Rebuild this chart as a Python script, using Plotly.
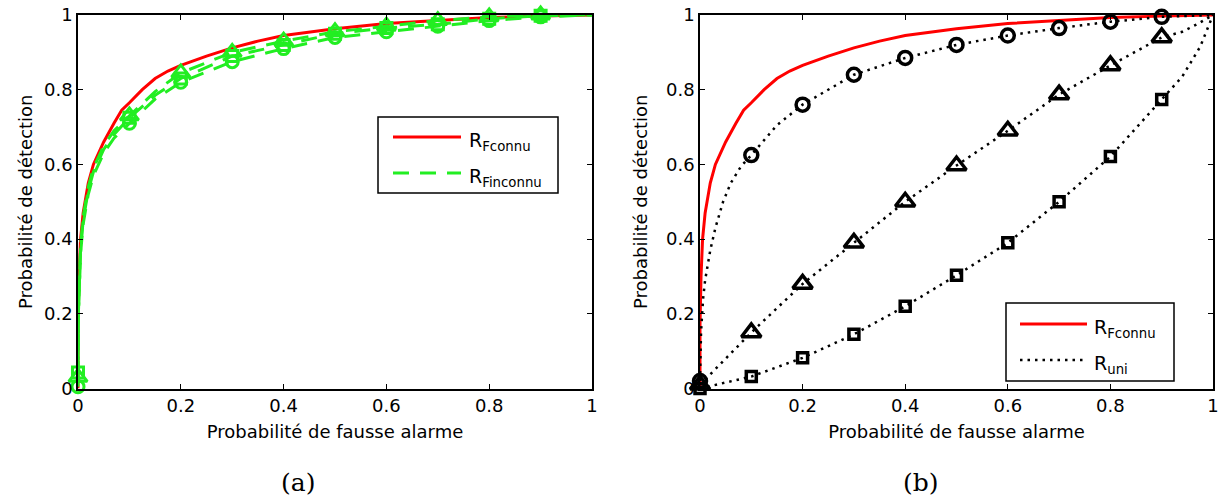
import plotly.graph_objects as go

# ---------------- data ----------------
# Red ROC curve (R_Fconnu), identical in both panels
pfa_red = [0, 0, 0.002, 0.005, 0.01, 0.02, 0.03, 0.05, 0.07, 0.085, 0.1, 0.125, 0.15,
           0.175, 0.2, 0.25, 0.3, 0.35, 0.4, 0.5, 0.6, 0.7, 0.8, 0.9, 1.0]
pd_red = [0, 0.17, 0.3, 0.4, 0.47, 0.55, 0.6, 0.66, 0.71, 0.745, 0.765, 0.8, 0.83,
          0.85, 0.865, 0.89, 0.912, 0.93, 0.945, 0.963, 0.977, 0.986, 0.993, 0.997, 1.0]

# Panel (a): green dashed curves (R_Finconnu)
pfa_green = [0, 0.001, 0.005, 0.01, 0.02, 0.03, 0.05, 0.07, 0.1, 0.15, 0.2, 0.3, 0.4,
             0.5, 0.6, 0.7, 0.8, 0.9, 1.0]
pd_green_circle = [0.005, 0.2, 0.36, 0.44, 0.52, 0.57, 0.63, 0.67, 0.71, 0.775, 0.82,
                   0.875, 0.91, 0.94, 0.955, 0.97, 0.985, 0.995, 1.0]
pd_green_triangle = [0.03, 0.22, 0.38, 0.46, 0.54, 0.59, 0.65, 0.69, 0.73, 0.795, 0.845,
                     0.9, 0.93, 0.955, 0.97, 0.985, 0.995, 1.0, 1.0]
pd_green_square = [0.043, 0.21, 0.37, 0.45, 0.53, 0.58, 0.64, 0.68, 0.725, 0.785, 0.83,
                   0.89, 0.92, 0.95, 0.965, 0.975, 0.99, 0.998, 1.0]

# Panel (b): black dotted curves (R_uni)
pfa_uni_circle = [0, 0.002, 0.006, 0.01, 0.02, 0.03, 0.045, 0.06, 0.08, 0.1, 0.15, 0.2,
                  0.3, 0.4, 0.5, 0.6, 0.7, 0.8, 0.9, 1.0]
pd_uni_circle = [0.02, 0.15, 0.24, 0.29, 0.37, 0.43, 0.5, 0.55, 0.595, 0.625, 0.705, 0.76,
                 0.84, 0.885, 0.92, 0.945, 0.965, 0.982, 0.995, 1.0]
pfa_uni_triangle = [0, 0.1, 0.2, 0.3, 0.4, 0.5, 0.6, 0.7, 0.8, 0.9, 0.94, 0.97, 1.0]
pd_uni_triangle = [0.01, 0.15, 0.28, 0.39, 0.5, 0.597, 0.69, 0.787, 0.865, 0.94, 0.955,
                   0.976, 1.0]
pfa_uni_square = [0, 0.1, 0.2, 0.3, 0.4, 0.5, 0.6, 0.7, 0.8, 0.9, 0.94, 0.975, 1.0]
pd_uni_square = [0, 0.032, 0.082, 0.145, 0.22, 0.303, 0.39, 0.5, 0.621, 0.774, 0.835,
                 0.915, 1.0]

# marker positions (every 0.1 from 0 to 0.9)
marker_pfa = [0, 0.1, 0.2, 0.3, 0.4, 0.5, 0.6, 0.7, 0.8, 0.9]

tick_vals = [0, 0.2, 0.4, 0.6, 0.8, 1]
tick_text = ["0", "0.2", "0.4", "0.6", "0.8", "1"]

x_title = "Probabilité de fausse alarme"
y_title = "Probabilité de détection"
legend_red = "R<sub>Fconnu</sub>"
legend_green = "R<sub>Finconnu</sub>"
legend_black = "R<sub>uni</sub>"
panel_labels = ["(a)", "(b)"]

# ---------------- style ----------------
RED = "#ff0000"
GREEN = "#22ee22"
BLACK = "#000000"
FONT = "DejaVu Sans"
W, H = 1226, 496
GREEN_DASH = "16px,11px"
BLACK_DOT = "2.5px,5px"


def px_x(p):
    return p / W


def px_y(p):
    return 1 - p / H


def pick(xs, ys):
    keep = [round(m, 3) for m in marker_pfa]
    px, py, seen = [], [], set()
    for x, y in zip(xs, ys):
        k = round(x, 3)
        if k in keep and k not in seen:
            seen.add(k)
            px.append(x)
            py.append(y)
    return px, py


fig = go.Figure()

# ---- panel (a) ----
fig.add_trace(go.Scatter(x=pfa_red, y=pd_red, mode="lines", name=legend_red,
                         line=dict(color=RED, width=3), xaxis="x", yaxis="y",
                         showlegend=False, cliponaxis=False))
for ys, sym, size in [(pd_green_square, "square-open", 11),
                      (pd_green_triangle, "triangle-up-open", 16),
                      (pd_green_circle, "circle-open", 12)]:
    fig.add_trace(go.Scatter(x=pfa_green, y=ys, mode="lines", name=legend_green,
                             line=dict(color=GREEN, width=3, dash=GREEN_DASH),
                             xaxis="x", yaxis="y", showlegend=False, cliponaxis=False))
    mx, my = pick(pfa_green, ys)
    fig.add_trace(go.Scatter(x=mx, y=my, mode="markers", showlegend=False,
                             marker=dict(symbol=sym, size=size, color=GREEN,
                                         line=dict(color=GREEN, width=3)),
                             xaxis="x", yaxis="y", cliponaxis=False))

# ---- panel (b) ----
fig.add_trace(go.Scatter(x=pfa_red, y=pd_red, mode="lines", name=legend_red,
                         line=dict(color=RED, width=3), xaxis="x2", yaxis="y2",
                         showlegend=False, cliponaxis=False))
for xs, ys, sym, size in [(pfa_uni_circle, pd_uni_circle, "circle-open", 13),
                          (pfa_uni_triangle, pd_uni_triangle, "triangle-up-open", 17),
                          (pfa_uni_square, pd_uni_square, "square-open", 10)]:
    fig.add_trace(go.Scatter(x=xs, y=ys, mode="lines", name=legend_black,
                             line=dict(color=BLACK, width=2.5, dash=BLACK_DOT),
                             xaxis="x2", yaxis="y2", showlegend=False, cliponaxis=False))
    mx, my = pick(xs, ys)
    fig.add_trace(go.Scatter(x=mx, y=my, mode="markers", showlegend=False,
                             marker=dict(symbol=sym, size=size, color=BLACK,
                                         line=dict(color=BLACK, width=3.5)),
                             xaxis="x2", yaxis="y2", cliponaxis=False))

# ---- legend boxes (drawn in paper space, MATLAB style) ----
shapes = []
annotations = []


def add_legend(box, rows):
    x0, y0, x1, y1 = box
    shapes.append(dict(type="rect", xref="paper", yref="paper",
                       x0=px_x(x0), x1=px_x(x1), y0=px_y(y1), y1=px_y(y0),
                       line=dict(color=BLACK, width=1.5), fillcolor="white",
                       layer="above"))
    for (lx0, lx1, ly, color, width, dash, text, tx) in rows:
        shapes.append(dict(type="line", xref="paper", yref="paper",
                           x0=px_x(lx0), x1=px_x(lx1), y0=px_y(ly), y1=px_y(ly),
                           line=dict(color=color, width=width, dash=dash),
                           layer="above"))
        annotations.append(dict(text=text, x=px_x(tx), y=px_y(ly + 4),
                                xref="paper", yref="paper", showarrow=False,
                                xanchor="left", yanchor="middle",
                                font=dict(family=FONT, size=19, color=BLACK)))


add_legend((378, 117, 558, 193), [
    (393, 461, 137, RED, 3, "solid", legend_red, 467),
    (393, 461, 173, GREEN, 3, GREEN_DASH, legend_green, 467),
])
add_legend((1006, 303, 1174, 381), [
    (1020, 1087, 324, RED, 3, "solid", legend_red, 1092),
    (1020, 1087, 360, BLACK, 2.5, BLACK_DOT, legend_black, 1092),
])

for i, cx in enumerate([298, 921]):
    annotations.append(dict(text=panel_labels[i], x=px_x(cx), y=px_y(482),
                            xref="paper", yref="paper", showarrow=False,
                            xanchor="center", yanchor="middle",
                            font=dict(family="DejaVu Serif", size=25, color=BLACK)))

ya0 = px_y(388.5)
ya1 = px_y(15)
axis_common = dict(range=[0, 1], tickvals=tick_vals, ticktext=tick_text,
                   ticks="inside", ticklen=5, tickwidth=1, tickcolor=BLACK,
                   showline=True, linecolor=BLACK, linewidth=1.5, mirror="ticks",
                   showgrid=False, zeroline=False, automargin=False,
                   tickfont=dict(family=FONT, size=18, color=BLACK))

fig.update_layout(
    width=W, height=H, autosize=False,
    margin=dict(l=0, r=0, t=0, b=0),
    paper_bgcolor="white", plot_bgcolor="white",
    font=dict(family=FONT, size=18, color=BLACK),
    showlegend=False,
    xaxis=dict(domain=[px_x(78), px_x(592)], anchor="y",
               title=dict(text=x_title, standoff=11, font=dict(size=18)), **axis_common),
    yaxis=dict(domain=[ya0, ya1], anchor="x",
               title=dict(text=y_title, standoff=7, font=dict(size=18)), **axis_common),
    xaxis2=dict(domain=[px_x(700), px_x(1213)], anchor="y2",
                title=dict(text=x_title, standoff=11, font=dict(size=18)), **axis_common),
    yaxis2=dict(domain=[ya0, ya1], anchor="x2",
                title=dict(text=y_title, standoff=14, font=dict(size=18)), **axis_common),
    shapes=shapes,
    annotations=annotations,
)

fig.write_html("out.html", config={"displayModeBar": False},
               post_script="document.body.style.margin='0';")
